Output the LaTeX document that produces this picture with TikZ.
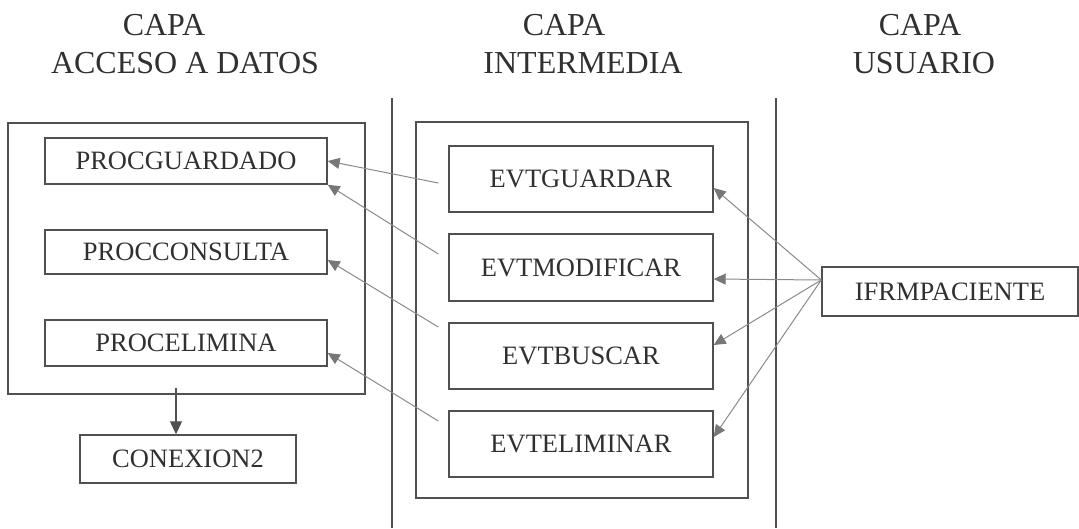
\documentclass[tikz,border=0pt]{standalone}
\usepackage{fontspec}
\setmainfont{Liberation Serif}
\usetikzlibrary{arrows.meta,calc}
\definecolor{boxline}{HTML}{505050}
\definecolor{arrline}{HTML}{8A8A8A}
\definecolor{headcol}{HTML}{777777}
\definecolor{txt}{HTML}{303030}
\tikzset{
  box/.style={draw=boxline,line width=1.4pt,rectangle,inner sep=0pt,text=txt,
    font=\fontsize{26.5}{28}\selectfont},
  frame/.style={draw=boxline,line width=1.4pt},
  title/.style={text=txt,font=\fontsize{32}{34}\selectfont,inner sep=0pt},
  conn/.style={draw=arrline,line width=1pt,-{Triangle[length=12pt,width=11pt,fill=headcol,color=headcol]}},
  dconn/.style={draw=boxline,line width=1.2pt,-{Triangle[length=13pt,width=12pt]}}
}
\begin{document}
\begin{tikzpicture}[x=1pt,y=-1pt]
\useasboundingbox (0,0) rectangle (1079,528);
% titles
\node[title] (t1a) at (164,25) {CAPA};
\node[title] (t1b) at (185,63) {ACCESO A DATOS};
\node[title] (t2a) at (564,25) {CAPA};
\node[title] (t2b) at (583,63) {INTERMEDIA};
\node[title] (t3a) at (920,25) {CAPA};
\node[title] (t3b) at (924,63) {USUARIO};
% separators
\draw[frame] (392,98) -- (392,528);
\draw[frame] (776,98) -- (776,528);
% frames
\draw[frame] (8,123) rectangle (365,394);
\draw[frame] (416,122) rectangle (748,498);
% left boxes
\node[box,minimum width=282pt,minimum height=46pt] (pg) at (186,161) {PROCGUARDADO};
\node[box,minimum width=282pt,minimum height=44pt] (pc) at (186,252) {PROCCONSULTA};
\node[box,minimum width=282pt,minimum height=46pt] (pe) at (186,343) {PROCELIMINA};
\node[box,minimum width=216pt,minimum height=48pt] (cx) at (188,459) {CONEXION2};
% middle boxes
\node[box,minimum width=264pt,minimum height=66pt] (eg) at (581,179) {EVTGUARDAR};
\node[box,minimum width=264pt,minimum height=67pt] (em) at (581,267.5) {EVTMODIFICAR};
\node[box,minimum width=264pt,minimum height=66pt] (eb) at (581,356) {EVTBUSCAR};
\node[box,minimum width=264pt,minimum height=66pt] (ee) at (581,444) {EVTELIMINAR};
% user box
\node[box,minimum width=256pt,minimum height=49pt] (ifrm) at (950,291.5) {IFRMPACIENTE};
% connectors
\coordinate (cxs) at (176,388);
\draw[dconn] (cxs) -- (cx.north -| cxs);
\draw[conn] ($(eg.west)+(-10,4)$) -- (pg.east);
\draw[conn] ($(em.west)+(-10,-13.5)$) -- (pg.south east);
\draw[conn] ($(eb.west)+(-10,-29)$) -- ($(pc.east)+(0,8)$);
\draw[conn] ($(ee.west)+(-10,-23)$) -- ($(pe.east)+(0,10)$);
\coordinate (src) at ($(ifrm.west)+(0,-11.5)$);
\draw[conn] (src) -- ($(eg.east)+(0,9)$);
\draw[conn] (src) -- ($(em.east)+(0,11.5)$);
\draw[conn] (src) -- ($(eb.east)+(0,-11)$);
\draw[conn] (src) -- ($(ee.east)+(0,-7)$);
\end{tikzpicture}
\end{document}
